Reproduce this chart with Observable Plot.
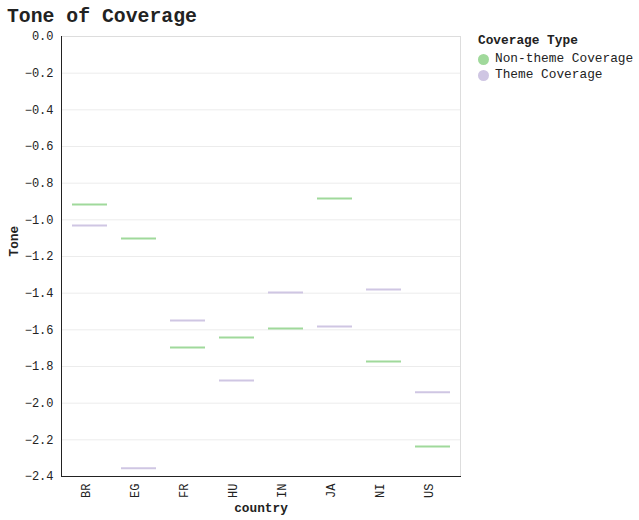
<!DOCTYPE html>
<html>
<head>
<meta charset="utf-8">
<script src="https://cdn.jsdelivr.net/npm/d3@7"></script>
<script src="https://cdn.jsdelivr.net/npm/@observablehq/plot@0.6"></script>
<style>
  body { margin: 0; background: #fff; font-family: "Liberation Mono", monospace; color: #222; }
  #wrap { position: relative; width: 639px; height: 520px; }
  #title { position: absolute; left: 7px; top: 5px; font-size: 19.8px; font-weight: bold; line-height: 24px; }
  #legend { position: absolute; left: 478px; top: 33px; font-size: 12.8px; }
  #legend .lt { font-weight: bold; line-height: 16px; margin-bottom: 2px; }
  #legend .row { display: flex; align-items: center; line-height: 16px; height: 16px; }
  #legend .dot { width: 11px; height: 11px; border-radius: 50%; margin-right: 6px; }
  #chart { position: absolute; left: 0; top: 0; }
</style>
</head>
<body>
<div id="wrap">
  <div id="chart"></div>
  <div id="title">Tone of Coverage</div>
  <div id="legend"></div>
</div>
<script>
const countries = ["BR", "EG", "FR", "HU", "IN", "JA", "NI", "US"];
const nonTheme = [-0.916, -1.102, -1.696, -1.642, -1.593, -0.884, -1.773, -2.236];
const theme = [-1.031, -2.355, -1.549, -1.876, -1.396, -1.582, -1.380, -1.940];
const types = ["Non-theme Coverage", "Theme Coverage"];
const colors = ["#a0d99b", "#cfc6e3"];
const yTicks = [0, -0.2, -0.4, -0.6, -0.8, -1.0, -1.2, -1.4, -1.6, -1.8, -2.0, -2.2, -2.4];

const rows = [];
countries.forEach((c, i) => {
  rows.push({country: c, type: types[0], tone: nonTheme[i]});
  rows.push({country: c, type: types[1], tone: theme[i]});
});

const plot = Plot.plot({
  width: 470,
  height: 520,
  marginTop: 36,
  marginBottom: 44,
  marginLeft: 61,
  marginRight: 10,
  style: {fontFamily: "Liberation Mono, monospace", fontSize: "12px", color: "#222", background: "#fff", overflow: "visible"},
  x: {domain: countries, padding: 0},
  y: {domain: [-2.4, 0]},
  color: {domain: types, range: colors},
  marks: [
    Plot.gridY(yTicks, {stroke: "#ececec", strokeOpacity: 1}),
    Plot.frame({stroke: "#ddd"}),
    Plot.frame({anchor: "left", stroke: "#222"}),
    Plot.frame({anchor: "bottom", stroke: "#222"}),
    Plot.axisY({ticks: yTicks, tickFormat: d3.format(".1f"), tickSize: 0, tickPadding: 8, label: null}),
    Plot.axisX({tickRotate: -90, tickSize: 0, tickPadding: 7, dx: -4, label: null}),
    Plot.tickY(rows, {x: "country", y: "tone", stroke: "type", strokeWidth: 2, inset: 7}),
    Plot.text(["country"], {frameAnchor: "bottom", dy: 35, text: d => d, fontWeight: "bold", fontSize: 12.8}),
    Plot.text(["Tone"], {frameAnchor: "left", dx: -48, rotate: -90, text: d => d, fontWeight: "bold", fontSize: 12.8})
  ]
});
document.getElementById("chart").appendChild(plot);

const legend = document.getElementById("legend");
const lt = document.createElement("div");
lt.className = "lt";
lt.textContent = "Coverage Type";
legend.appendChild(lt);
types.forEach((t, i) => {
  const row = document.createElement("div");
  row.className = "row";
  const dot = document.createElement("span");
  dot.className = "dot";
  dot.style.background = colors[i];
  const lab = document.createElement("span");
  lab.textContent = t;
  row.appendChild(dot);
  row.appendChild(lab);
  legend.appendChild(row);
});
</script>
</body>
</html>
